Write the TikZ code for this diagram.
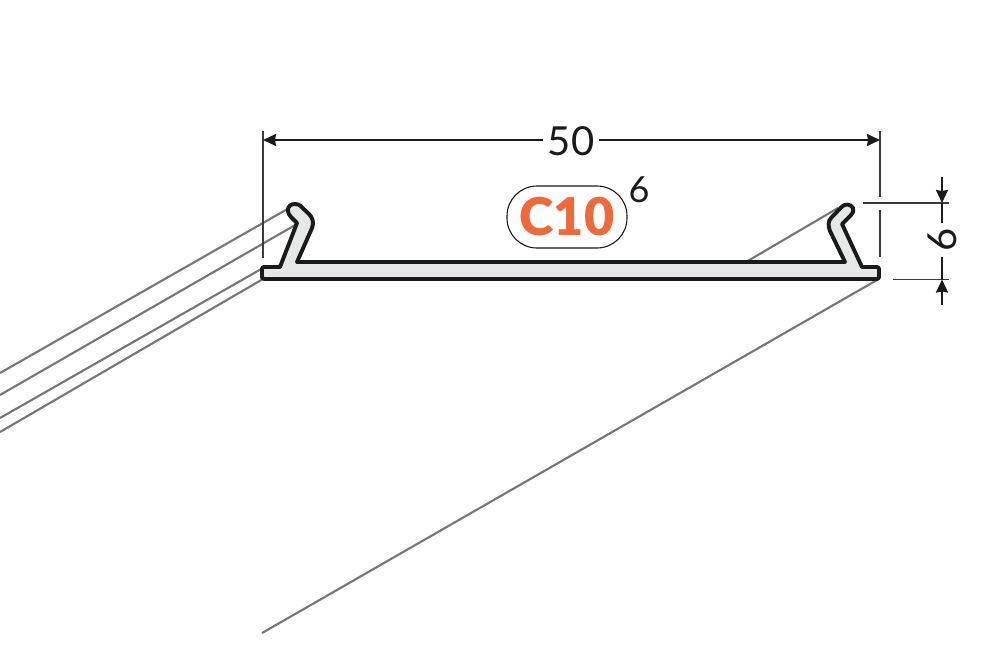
\documentclass[tikz,border=0pt]{standalone}
\usepackage{fontspec}
\setmainfont{Lato}
\newfontfamily\badgefont{Lato Black}
\usetikzlibrary{arrows.meta}
\definecolor{rail}{HTML}{767676}
\definecolor{prof}{HTML}{E6E8E8}
\definecolor{ink}{HTML}{1A1A1A}
\definecolor{accent}{HTML}{EE6A3A}
\tikzset{
  rail line/.style={draw=rail,line width=2.1pt},
  ext line/.style={draw=ink!85,line width=1.1pt},
  dim line/.style={draw=ink,line width=1.9pt},
  dim arrow/.style={dim line,-{Stealth[length=13pt,width=12pt,inset=1pt]}},
  profile/.style={draw=ink,fill=prof,line width=3.9pt,line join=round},
  big num/.style={font=\fontsize{40}{40}\selectfont,text=ink,inner sep=0pt},
  small num/.style={font=\fontsize{36}{36}\selectfont,text=ink,inner sep=0pt},
  pill/.style={draw=ink,line width=1.1pt,rounded corners=30pt,minimum width=120pt,minimum height=62pt,inner sep=0pt,
    font=\fontsize{52}{52}\badgefont\selectfont,text=accent}
}
\begin{document}
\begin{tikzpicture}[x=1pt,y=-1pt]
\useasboundingbox[fill=white] (0,0) rectangle (1000,667);
% coordinates
\coordinate (L1a) at (0,373); \coordinate (L1b) at (291,207);
\coordinate (L2a) at (0,395); \coordinate (L2b) at (297,224);
\coordinate (L3a) at (0,418); \coordinate (L3b) at (263,268);
\coordinate (L4a) at (0,432); \coordinate (L4b) at (263,279);
\coordinate (R1a) at (746,262); \coordinate (R1b) at (838,208);
\coordinate (R2a) at (262,633); \coordinate (R2b) at (877,280);
% receding rails
\draw[rail line] (L1a) -- (L1b);
\draw[rail line] (L2a) -- (L2b);
\draw[rail line] (L3a) -- (L3b);
\draw[rail line] (L4a) -- (L4b);
\draw[rail line] (R1a) -- (R1b);
\draw[rail line] (R2a) -- (R2b);
% extension lines
\coordinate (EL1) at (263,131); \coordinate (EL2) at (263,258);
\coordinate (ER1) at (880,131); \coordinate (ER2) at (880,197);
\coordinate (ER3) at (880,210); \coordinate (ER4) at (880,257);
\coordinate (EH1) at (863,203); \coordinate (EH2) at (949,203);
\coordinate (EH3) at (893,279.5); \coordinate (EH4) at (949,279.5);
\draw[ext line] (EL1) -- (EL2);
\draw[ext line] (ER1) -- (ER2);
\draw[ext line] (ER3) -- (ER4);
\draw[ext line] (EH1) -- (EH2);
\draw[ext line] (EH3) -- (EH4);
% profile
\draw[profile]
  (264,267) -- (280,267)
  -- (297,223)
  -- (291,217) .. controls (287,213) and (287,208) .. (290,205.5)
  .. controls (293,203.5) and (297,203.5) .. (300,205.5)
  -- (309,214) .. controls (313,218) and (314,223) .. (312,228)
  -- (297,262) -- (845,262)
  -- (830,231) .. controls (828,226) and (828,221) .. (831,218)
  -- (842,206.5) .. controls (845,203.5) and (851,204) .. (853,208)
  .. controls (854,211) and (853,213) .. (851,215)
  -- (842,224)
  -- (862,267) -- (877,267)
  .. controls (878,267) and (879,268) .. (879,269)
  -- (879,277) .. controls (879,278) and (878,279) .. (877,279)
  -- (265,279) .. controls (263,279) and (262,278) .. (262,277)
  -- (262,269) .. controls (262,268) and (263,267) .. (264,267) -- cycle;
% width dimension
\node[big num,fill=white,inner xsep=5pt] (w) at (571,141) {50};
\coordinate (WL) at (263,140); \coordinate (WR) at (880,140);
\draw[dim arrow] (w.west |- WL) -- (WL);
\draw[dim arrow] (w.east |- WR) -- (WR);
% height dimension
\node[big num,rotate=90] (h) at (942,240) {6};
\coordinate (HT0) at (942,177); \coordinate (HT1) at (942,203); \coordinate (HT2) at (942,223);
\coordinate (HB0) at (942,305); \coordinate (HB1) at (942,279.5); \coordinate (HB2) at (942,257);
\draw[dim arrow] (HT0) -- (HT1);
\draw[dim line] (HT1) -- (HT2);
\draw[dim arrow] (HB0) -- (HB1);
\draw[dim line] (HB1) -- (HB2);
% badge
\node[pill] (badge) at (567,217) {C10};
\node[small num] (sup) at (639,189.5) {6};
\end{tikzpicture}
\end{document}
